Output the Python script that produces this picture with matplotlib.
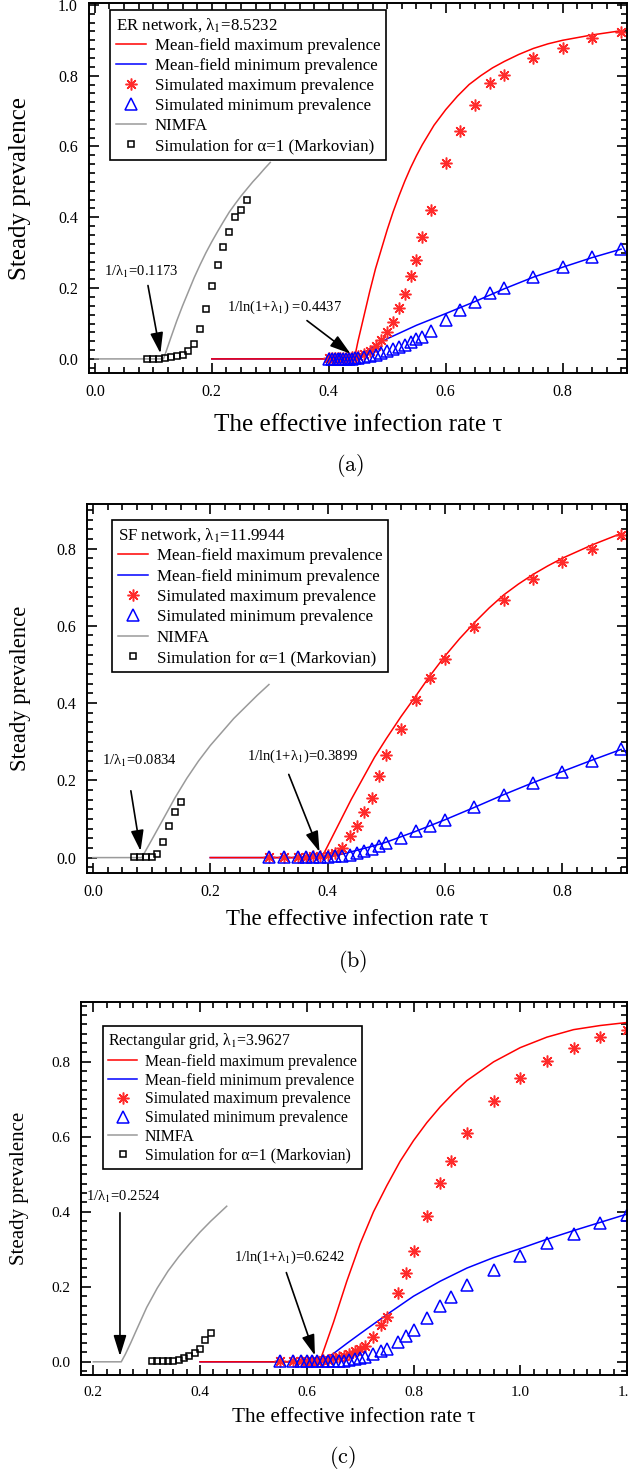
import numpy as np
import matplotlib
matplotlib.use("Agg")
import matplotlib.pyplot as plt
from matplotlib.lines import Line2D
from matplotlib.ticker import MultipleLocator, FormatStrFormatter

plt.rcParams['font.family'] = ['Liberation Serif', 'DejaVu Serif']
plt.rcParams['mathtext.fontset'] = 'stix'

# ---------------- (a) ER network ----------------
er_mfmax_x = [0.2, 0.4437, 0.45, 0.46, 0.47, 0.48, 0.49, 0.50, 0.51, 0.52, 0.53, 0.54, 0.55, 0.56, 0.58, 0.60, 0.62,
              0.64, 0.66, 0.68, 0.70, 0.725, 0.75, 0.775, 0.80, 0.85, 0.90]
er_mfmax_y = [0.0, 0.0, 0.05, 0.12, 0.19, 0.255, 0.31, 0.365, 0.415, 0.46, 0.502, 0.54, 0.574, 0.605, 0.66, 0.704, 0.742,
              0.775, 0.80, 0.822, 0.84, 0.86, 0.877, 0.89, 0.90, 0.915, 0.927]
er_mfmin_x = [0.2, 0.4437, 0.46, 0.48, 0.50, 0.55, 0.60, 0.65, 0.70, 0.75, 0.80, 0.85, 0.90]
er_mfmin_y = [0.0, 0.0, 0.018, 0.038, 0.057, 0.095, 0.128, 0.162, 0.198, 0.231, 0.259, 0.286, 0.31]
er_sim_x = [0.40, 0.405, 0.41, 0.415, 0.42, 0.425, 0.43, 0.435, 0.44, 0.445, 0.45, 0.46, 0.47, 0.48, 0.49, 0.50,
            0.51, 0.52, 0.53, 0.54, 0.55, 0.56, 0.575, 0.60, 0.625, 0.65, 0.675, 0.70, 0.75, 0.80, 0.85, 0.90]
er_sim_max = [0.002, 0.002, 0.002, 0.002, 0.002, 0.002, 0.003, 0.003, 0.004, 0.005, 0.008, 0.013, 0.022, 0.036, 0.052, 0.077,
              0.104, 0.143, 0.182, 0.233, 0.28, 0.343, 0.42, 0.552, 0.645, 0.718, 0.78, 0.803, 0.85, 0.879, 0.907, 0.924]
er_sim_min = [0.001, 0.001, 0.001, 0.001, 0.001, 0.001, 0.001, 0.001, 0.001, 0.002, 0.003, 0.005, 0.008, 0.012, 0.016, 0.022,
              0.027, 0.033, 0.038, 0.047, 0.055, 0.062, 0.08, 0.11, 0.137, 0.16, 0.186, 0.2, 0.23, 0.259, 0.287, 0.31]
er_nimfa_x = [0.0, 0.1173, 0.12, 0.13, 0.14, 0.15, 0.16, 0.17, 0.18, 0.19, 0.20, 0.21, 0.22, 0.23, 0.24, 0.25, 0.26,
              0.27, 0.28, 0.29, 0.30]
er_nimfa_y = [0.0, 0.0, 0.012, 0.06, 0.107, 0.15, 0.19, 0.23, 0.266, 0.30, 0.331, 0.36, 0.388, 0.415, 0.438, 0.46, 0.48,
              0.50, 0.518, 0.537, 0.555]
er_markov_x = [0.09, 0.10, 0.11, 0.12, 0.13, 0.14, 0.15, 0.16, 0.17, 0.18, 0.19, 0.20, 0.21, 0.22, 0.23, 0.24, 0.25, 0.26]
er_markov_y = [0.001, 0.001, 0.001, 0.002, 0.004, 0.007, 0.011, 0.021, 0.042, 0.085, 0.141, 0.205, 0.265, 0.317, 0.359, 0.40, 0.42, 0.45]

# ---------------- (b) SF network ----------------
sf_mfmax_x = [0.2, 0.3899, 0.40, 0.42, 0.44, 0.46, 0.48, 0.50, 0.525, 0.55, 0.575, 0.60, 0.625, 0.65, 0.675, 0.70,
              0.725, 0.75, 0.775, 0.80, 0.85, 0.90]
sf_mfmax_y = [0.0, 0.0, 0.03, 0.09, 0.15, 0.205, 0.26, 0.308, 0.365, 0.418, 0.472, 0.522, 0.567, 0.608, 0.646, 0.68,
              0.708, 0.733, 0.755, 0.775, 0.809, 0.839]
sf_mfmin_x = [0.2, 0.3899, 0.41, 0.43, 0.45, 0.475, 0.50, 0.525, 0.55, 0.60, 0.65, 0.70, 0.75, 0.80, 0.85, 0.90]
sf_mfmin_y = [0.0, 0.0, 0.004, 0.011, 0.019, 0.029, 0.04, 0.054, 0.068, 0.098, 0.13, 0.163, 0.194, 0.223, 0.252, 0.28]
sf_sim_x = [0.30, 0.325, 0.35, 0.3625, 0.375, 0.3875, 0.40, 0.4125, 0.425, 0.4375, 0.45, 0.4625, 0.475, 0.4875, 0.50,
            0.525, 0.55, 0.575, 0.60, 0.65, 0.70, 0.75, 0.80, 0.85, 0.90]
sf_sim_max = [0.002, 0.002, 0.002, 0.002, 0.003, 0.004, 0.006, 0.013, 0.026, 0.056, 0.082, 0.118, 0.154, 0.21, 0.266,
              0.332, 0.407, 0.465, 0.515, 0.598, 0.667, 0.72, 0.764, 0.80, 0.835]
sf_sim_min = [0.001, 0.001, 0.001, 0.001, 0.001, 0.002, 0.002, 0.003, 0.005, 0.008, 0.012, 0.017, 0.023, 0.03, 0.038,
              0.051, 0.068, 0.083, 0.098, 0.13, 0.162, 0.193, 0.222, 0.25, 0.28]
sf_nimfa_x = [0.0, 0.0834, 0.09, 0.10, 0.12, 0.14, 0.16, 0.18, 0.20, 0.22, 0.24, 0.26, 0.28, 0.30]
sf_nimfa_y = [0.0, 0.0, 0.018, 0.045, 0.10, 0.155, 0.205, 0.25, 0.29, 0.325, 0.36, 0.39, 0.42, 0.448]
sf_markov_x = [0.07, 0.08, 0.09, 0.10, 0.11, 0.12, 0.13, 0.14, 0.15]
sf_markov_y = [0.001, 0.001, 0.001, 0.002, 0.01, 0.04, 0.081, 0.117, 0.145]

# ---------------- (c) rectangular grid ----------------
gr_mfmax_x = [0.4, 0.6242, 0.65, 0.675, 0.70, 0.725, 0.75, 0.775, 0.80, 0.825, 0.85, 0.875, 0.90, 0.95, 1.0, 1.05,
              1.10, 1.15, 1.20]
gr_mfmax_y = [0.0, 0.0, 0.105, 0.215, 0.315, 0.40, 0.47, 0.535, 0.59, 0.638, 0.68, 0.717, 0.75, 0.80, 0.838, 0.866,
              0.886, 0.897, 0.905]
gr_mfmin_x = [0.4, 0.6242, 0.65, 0.675, 0.70, 0.75, 0.80, 0.85, 0.90, 0.95, 1.0, 1.05, 1.10, 1.15, 1.20]
gr_mfmin_y = [0.0, 0.0, 0.022, 0.049, 0.075, 0.126, 0.175, 0.215, 0.25, 0.278, 0.302, 0.327, 0.35, 0.372, 0.394]
gr_sim_x = [0.55, 0.575, 0.59, 0.60, 0.61, 0.62, 0.63, 0.64, 0.65, 0.66, 0.67, 0.68, 0.69, 0.70, 0.71, 0.725,
            0.74, 0.75, 0.77, 0.785, 0.80, 0.825, 0.85, 0.87, 0.90, 0.95, 1.0, 1.05, 1.10, 1.15, 1.20]
gr_sim_max = [0.002, 0.002, 0.002, 0.002, 0.002, 0.003, 0.004, 0.006, 0.009, 0.012, 0.016, 0.021, 0.028, 0.035, 0.042, 0.065,
              0.098, 0.12, 0.184, 0.237, 0.295, 0.389, 0.477, 0.536, 0.611, 0.695, 0.757, 0.803, 0.837, 0.867, 0.886]
gr_sim_min = [0.001, 0.001, 0.001, 0.001, 0.001, 0.001, 0.001, 0.001, 0.001, 0.001, 0.003, 0.005, 0.007, 0.01, 0.014, 0.02,
              0.028, 0.034, 0.052, 0.069, 0.086, 0.118, 0.15, 0.173, 0.204, 0.246, 0.283, 0.316, 0.342, 0.37, 0.392]
gr_nimfa_x = [0.2, 0.2524, 0.26, 0.27, 0.28, 0.30, 0.32, 0.34, 0.36, 0.38, 0.40, 0.42, 0.45]
gr_nimfa_y = [0.0, 0.0, 0.02, 0.05, 0.082, 0.145, 0.197, 0.242, 0.28, 0.314, 0.346, 0.375, 0.415]
gr_markov_x = [0.31, 0.32, 0.33, 0.34, 0.35, 0.36, 0.37, 0.38, 0.39, 0.40, 0.41, 0.42]
gr_markov_y = [0.001, 0.001, 0.001, 0.001, 0.002, 0.004, 0.009, 0.015, 0.024, 0.035, 0.057, 0.076]

legend_labels = ['Mean-field maximum prevalence', 'Mean-field minimum prevalence',
                 'Simulated maximum prevalence', 'Simulated minimum prevalence',
                 'NIMFA', r'Simulation for α=1 (Markovian)']

RED = '#ff0000'
BLUE = '#0000ff'
GRAY = '#9a9a9a'
ARROW = dict(arrowstyle='-|>,head_length=0.9,head_width=0.28', color='k', lw=1.2, mutation_scale=14)


def draw_panel(ax, mfmax, mfmin, sim_x, sim_max, sim_min, nimfa, markov, title, leg_fs, leg_sp, leg_anchor, tick_fs):
    ax.plot(nimfa[0], nimfa[1], color=GRAY, lw=1.1)
    ax.plot(mfmin[0], mfmin[1], color=BLUE, lw=1.1)
    ax.plot(mfmax[0], mfmax[1], color=RED, lw=1.1)
    ax.plot(sim_x, sim_max, ls='none', marker=(8, 2, 0), ms=8.5, mec='#ff2a2a', mew=1.1)
    ax.plot(sim_x, sim_min, ls='none', marker='^', ms=9, mfc='none', mec=BLUE, mew=1.1)
    ax.plot(markov[0], markov[1], ls='none', marker='s', ms=4.5, mfc='none', mec='k', mew=1.1)

    handles = [Line2D([], [], color=RED, lw=1.1),
               Line2D([], [], color=BLUE, lw=1.1),
               Line2D([], [], ls='none', marker=(8, 2, 0), ms=8.5, mec='#ff2a2a', mew=1.1),
               Line2D([], [], ls='none', marker='^', ms=9, mfc='none', mec=BLUE, mew=1.1),
               Line2D([], [], color=GRAY, lw=1.1),
               Line2D([], [], ls='none', marker='s', ms=4.5, mfc='none', mec='k', mew=1.1)]
    leg = ax.legend(handles, legend_labels, title=title, alignment='left', loc='upper left',
                    bbox_to_anchor=leg_anchor, borderaxespad=0, fontsize=leg_fs, title_fontsize=leg_fs,
                    frameon=True, fancybox=False, framealpha=1, edgecolor='k', labelspacing=leg_sp,
                    handlelength=1.8, handletextpad=0.5, borderpad=0.35, numpoints=1)
    leg.get_frame().set_linewidth(1.2)

    ax.xaxis.set_major_locator(MultipleLocator(0.2))
    ax.xaxis.set_minor_locator(MultipleLocator(0.025))
    ax.yaxis.set_major_locator(MultipleLocator(0.2))
    ax.yaxis.set_minor_locator(MultipleLocator(0.025))
    ax.xaxis.set_major_formatter(FormatStrFormatter('%.1f'))
    ax.yaxis.set_major_formatter(FormatStrFormatter('%.1f'))
    ax.tick_params(which='both', direction='in', top=True, right=True, width=1.2, labelsize=tick_fs)
    ax.tick_params(which='major', length=7, pad=8)
    ax.tick_params(which='minor', length=4)
    for s in ax.spines.values():
        s.set_linewidth(1.4)


fig = plt.figure(figsize=(6.28, 14.74), dpi=100)

# (a)
ax1 = fig.add_axes([0.1417, 0.7469, 0.8567, 0.2510])
draw_panel(ax1, (er_mfmax_x, er_mfmax_y), (er_mfmin_x, er_mfmin_y), er_sim_x, er_sim_max, er_sim_min,
           (er_nimfa_x, er_nimfa_y), (er_markov_x, er_markov_y),
           'ER network, λ$_1$=8.5232', 12.2, 0.24, (0.039, 0.981), 11.5)
ax1.set_xlim(-0.01, 0.91)
ax1.set_ylim(-0.04, 1.005)
ax1.text(0.08, 0.245, '1/λ$_1$=0.1173', fontsize=10.5, ha='center', va='center')
ax1.annotate('', xy=(0.113, 0.008), xytext=(0.09, 0.215), arrowprops=ARROW)
ax1.text(0.325, 0.146, '1/ln(1+λ$_1$) =0.4437', fontsize=10.5, ha='center', va='center')
ax1.annotate('', xy=(0.441, 0.01), xytext=(0.359, 0.113), arrowprops=ARROW)
ax1.set_xlabel('The effective infection rate τ', fontsize=18, va='center')
ax1.xaxis.set_label_coords(0.5, -0.1405)
ax1.set_ylabel('Steady prevalence', fontsize=18, va='center')
ax1.yaxis.set_label_coords(-0.128, 0.5)

# (b)
ax2 = fig.add_axes([0.1385, 0.4077, 0.8599, 0.2503])
draw_panel(ax2, (sf_mfmax_x, sf_mfmax_y), (sf_mfmin_x, sf_mfmin_y), sf_sim_x, sf_sim_max, sf_sim_min,
           (sf_nimfa_x, sf_nimfa_y), (sf_markov_x, sf_markov_y),
           'SF network, λ$_1$=11.9944', 12.2, 0.26, (0.046, 0.957), 11.5)
ax2.set_xlim(-0.01, 0.91)
ax2.set_ylim(-0.04, 0.915)
ax2.text(0.08, 0.25, '1/λ$_1$=0.0834', fontsize=10.5, ha='center', va='center')
ax2.annotate('', xy=(0.082, 0.01), xytext=(0.064, 0.18), arrowprops=ARROW)
ax2.text(0.357, 0.263, '1/ln(1+λ$_1$)=0.3899', fontsize=10.5, ha='center', va='center')
ax2.annotate('', xy=(0.388, 0.008), xytext=(0.332, 0.222), arrowprops=ARROW)
ax2.set_xlabel('The effective infection rate τ', fontsize=16.5, va='center')
ax2.xaxis.set_label_coords(0.5, -0.127)
ax2.set_ylabel('Steady prevalence', fontsize=16.3, va='center')
ax2.yaxis.set_label_coords(-0.124, 0.5)

# (c)
ax3 = fig.add_axes([0.129, 0.0672, 0.8694, 0.2531])
draw_panel(ax3, (gr_mfmax_x, gr_mfmax_y), (gr_mfmin_x, gr_mfmin_y), gr_sim_x, gr_sim_max, gr_sim_min,
           (gr_nimfa_x, gr_nimfa_y), (gr_markov_x, gr_markov_y),
           'Rectangular grid, λ$_1$=3.9627', 11.4, 0.17, (0.04, 0.936), 11)
ax3.set_xlim(0.177, 1.2)
ax3.set_ylim(-0.035, 0.96)
ax3.text(0.256, 0.44, '1/λ$_1$=0.2524', fontsize=10.5, ha='center', va='center')
ax3.annotate('', xy=(0.25, 0.008), xytext=(0.25, 0.405), arrowprops=ARROW)
ax3.text(0.568, 0.278, '1/ln(1+λ$_1$)=0.6242', fontsize=10.5, ha='center', va='center')
ax3.annotate('', xy=(0.617, 0.01), xytext=(0.56, 0.245), arrowprops=ARROW)
ax3.set_xlabel('The effective infection rate τ', fontsize=15.2, va='center')
ax3.xaxis.set_label_coords(0.5, -0.115)
ax3.set_ylabel('Steady prevalence', fontsize=15, va='center')
ax3.yaxis.set_label_coords(-0.112, 0.5)

# captions
for lab, xc, yc in [('a', 0.557, 0.6845), ('b', 0.562, 0.3474), ('c', 0.545, 0.0109)]:
    fig.text(xc, yc, r'$\mathrm{(' + lab + ')}$', fontsize=16, ha='center', va='center', math_fontfamily='cm')

fig.savefig('out.png', dpi=100)
